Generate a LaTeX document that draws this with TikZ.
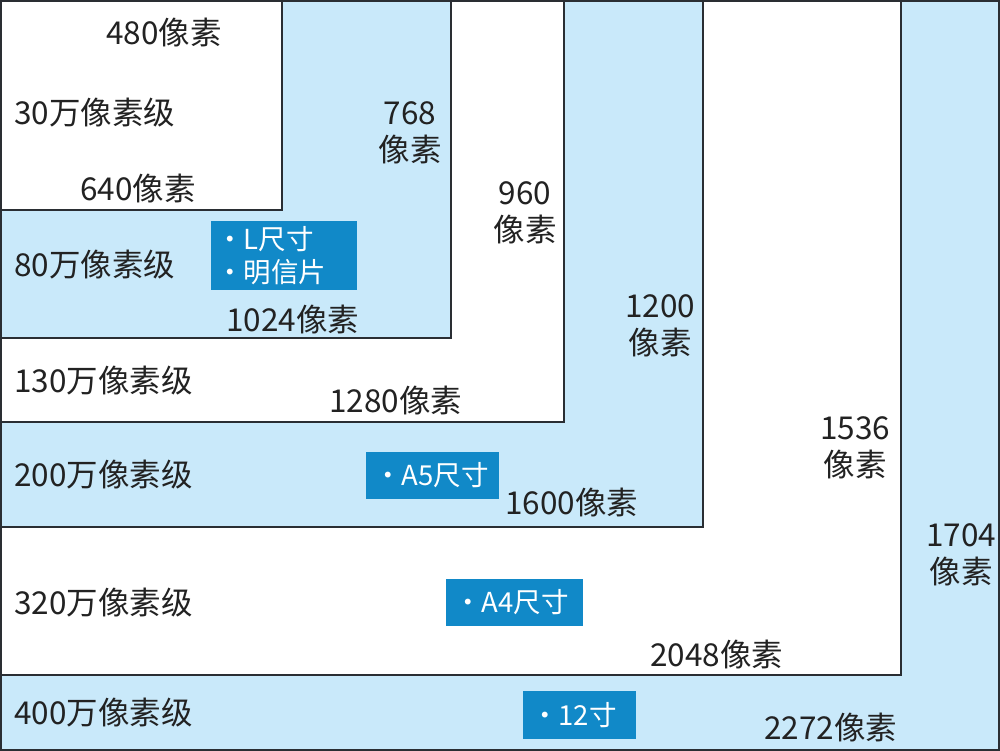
\documentclass[tikz,border=0pt]{standalone}
\usepackage{fontspec}
\setmainfont{Noto Sans CJK SC}
\definecolor{lblue}{HTML}{C9E9FA}
\definecolor{tagblue}{HTML}{1189C8}
\definecolor{edge}{HTML}{2A2E33}
\definecolor{ink}{HTML}{222222}
\tikzset{
  zone/.style={draw=edge, line width=2pt},
  lbl/.style={anchor=west, inner sep=0pt, text=ink, font=\fontsize{31.5}{37}\selectfont},
  dim/.style={inner sep=0pt, text=ink, align=center, font=\fontsize{31.5}{37}\selectfont},
  tagbox/.style={fill=tagblue, draw=none},
  tagtxt/.style={anchor=west, inner sep=0pt, text=white, align=left, font=\fontsize{27.5}{33}\selectfont},
}
\begin{document}
\begin{tikzpicture}[x=1pt,y=-1pt]
\useasboundingbox (0,0) rectangle (1000,751);
% nested zones, largest first
\fill[lblue] (0,0) rectangle (1000,751);
\draw[zone] (1,1) rectangle (999,750);
\filldraw[zone, fill=white] (1,1) rectangle (901,675);
\filldraw[zone, fill=lblue] (1,1) rectangle (703,527);
\filldraw[zone, fill=white] (1,1) rectangle (564,422);
\filldraw[zone, fill=lblue] (1,1) rectangle (451,338);
\filldraw[zone, fill=white] (1,1) rectangle (282,210);

% tags
\node[tagbox, minimum width=146pt, minimum height=69pt, anchor=north west, inner sep=0pt] (tL) at (211,221) {};
\node[tagtxt] (tLt) at (216,256) {・L尺寸\\・明信片};
\node[tagbox, minimum width=133pt, minimum height=47pt, anchor=north west, inner sep=0pt] (tA5) at (366,452) {};
\node[tagtxt] (tA5t) at (374,475) {・A5尺寸};
\node[tagbox, minimum width=137pt, minimum height=47pt, anchor=north west, inner sep=0pt] (tA4) at (446,579) {};
\node[tagtxt] (tA4t) at (454,602) {・A4尺寸};
\node[tagbox, minimum width=113pt, minimum height=48pt, anchor=north west, inner sep=0pt] (t12) at (523,691) {};
\node[tagtxt] (t12t) at (531,715) {・12寸};

% level labels
\node[lbl] (l30) at (14,113) {30万像素级};
\node[lbl] (l80) at (14,265) {80万像素级};
\node[lbl] (l130) at (14,381) {130万像素级};
\node[lbl] (l200) at (14,475) {200万像素级};
\node[lbl] (l320) at (14,603) {320万像素级};
\node[lbl] (l400) at (14,713) {400万像素级};

% width labels
\node[lbl] (w480) at (106,33) {480像素};
\node[lbl] (w640) at (80,188) {640像素};
\node[lbl] (w1024) at (226,319) {1024像素};
\node[lbl] (w1280) at (329,400) {1280像素};
\node[lbl] (w1600) at (505,502) {1600像素};
\node[lbl] (w2048) at (650,654) {2048像素};
\node[lbl] (w2272) at (764,727) {2272像素};

% height labels
\node[dim] (h768) at (410,133) {768\\像素};
\node[dim] (h960) at (525,213) {960\\像素};
\node[dim] (h1200) at (660,326) {1200\\像素};
\node[dim] (h1536) at (855,448) {1536\\像素};
\node[dim] (h1704) at (961,555) {1704\\像素};
\end{tikzpicture}
\end{document}
